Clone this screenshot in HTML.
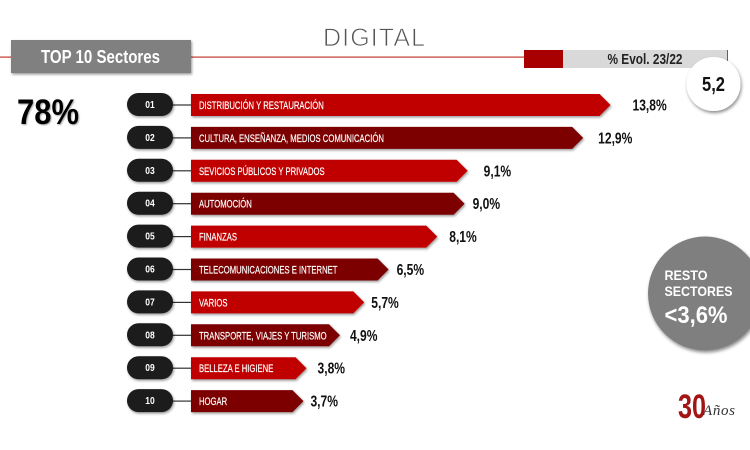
<!DOCTYPE html>
<html lang="es">
<head>
<meta charset="utf-8">
<title>Digital - Top 10 Sectores</title>
<style>
html,body{margin:0;padding:0;background:#fff;width:750px;height:450px;overflow:hidden}
svg{display:block}
text{font-family:"Liberation Sans",sans-serif}
</style>
</head>
<body>
<svg id="chart" xmlns="http://www.w3.org/2000/svg" width="750" height="450" viewBox="0 0 750 450">
  <defs>
    <filter id="sh" x="-10%" y="-30%" width="120%" height="170%">
      <feDropShadow dx="1" dy="1.5" stdDeviation="1.2" flood-color="#000" flood-opacity="0.4"/>
    </filter>
    <filter id="shc" x="-30%" y="-30%" width="160%" height="160%">
      <feDropShadow dx="1" dy="2" stdDeviation="1.6" flood-color="#000" flood-opacity="0.45"/>
    </filter>
    <filter id="sht" x="-10%" y="-10%" width="125%" height="130%">
      <feDropShadow dx="1" dy="1" stdDeviation="0.8" flood-color="#000" flood-opacity="0.35"/>
    </filter>
  </defs>

  <rect x="0" y="56.5" width="524" height="1.2" fill="#c0392f"/>
  <rect x="11" y="40" width="180" height="33" fill="#808080" filter="url(#sh)"/>
  <text x="41" y="63" fill="#fff" font-size="18" font-weight="700" textLength="119" lengthAdjust="spacingAndGlyphs">TOP 10 Sectores</text>
  <text x="323" y="46" fill="#555" stroke="#fff" stroke-width="0.8" font-size="25" textLength="102" lengthAdjust="spacing">DIGITAL</text>

  <rect x="524" y="50" width="39" height="18" fill="#a80000"/>
  <rect x="563" y="50" width="164" height="18" fill="#d9d9d9"/>
  <rect x="727" y="50" width="1" height="11" fill="#c0392f"/>
  <text x="607.5" y="64" fill="#222" font-size="14.5" font-weight="700" textLength="75" lengthAdjust="spacingAndGlyphs">% Evol. 23/22</text>
  <circle cx="713.5" cy="84" r="27" fill="#fff" filter="url(#shc)"/>
  <text x="702" y="91" fill="#111" font-size="20" font-weight="700" textLength="23" lengthAdjust="spacingAndGlyphs">5,2</text>

  <text x="17" y="124" fill="#000" font-size="35" font-weight="700" textLength="62" lengthAdjust="spacingAndGlyphs" filter="url(#sht)">78%</text>

  <g id="rows"></g>

  <circle cx="705" cy="293.5" r="57" fill="#7f7f7f" filter="url(#shc)"/>
  <text x="664.5" y="280" fill="#fff" font-size="13.5" font-weight="700" textLength="43" lengthAdjust="spacingAndGlyphs">RESTO</text>
  <text x="664.5" y="296" fill="#fff" font-size="13.5" font-weight="700" textLength="68" lengthAdjust="spacingAndGlyphs">SECTORES</text>
  <text x="664.5" y="323" fill="#fff" font-size="24" font-weight="700" textLength="63" lengthAdjust="spacingAndGlyphs">&lt;3,6%</text>

  <g>
    <text x="678" y="418" fill="#a31515" font-size="34" font-weight="700" textLength="28" lengthAdjust="spacingAndGlyphs">30</text>
    <text x="703" y="415" fill="#333" font-size="15" font-style="italic" style="font-family:'Liberation Serif',serif" textLength="32" lengthAdjust="spacing">Años</text>
  </g>
</svg>

<script>
const ranks = ['01','02','03','04','05','06','07','08','09','10'];
const sectors = [
  'DISTRIBUCIÓN Y RESTAURACIÓN',
  'CULTURA, ENSEÑANZA, MEDIOS COMUNICACIÓN',
  'SEVICIOS PÚBLICOS Y PRIVADOS',
  'AUTOMOCIÓN',
  'FINANZAS',
  'TELECOMUNICACIONES E INTERNET',
  'VARIOS',
  'TRANSPORTE, VIAJES Y TURISMO',
  'BELLEZA E HIGIENE',
  'HOGAR'
];
const shares = [13.8, 12.9, 9.1, 9.0, 8.1, 6.5, 5.7, 4.9, 3.8, 3.7];

const NS = 'http://www.w3.org/2000/svg';
const rowsGroup = document.getElementById('rows');
const BAR_X0 = 191;
const PX_PER_POINT = 30.4;
const ROW_Y0 = 105;
const ROW_STEP = 32.9;
const BAR_H = 22;
const TIP = 11;
const NAME_X = 199;
const NAME_SQUEEZE = 0.70;
const VALUE_SQUEEZE = 0.78;
const VALUE_GAP = [22, 15, 16, 8, 12, 8, 7, 10, 11, 7];

function xScale(v) { return BAR_X0 + v * PX_PER_POINT; }
function yScale(i) { return ROW_Y0 + i * ROW_STEP; }
function formatShare(v) { return v.toFixed(1).replace('.', ',') + '%'; }
function squeeze(x, k) { return 'translate(' + x + ' 0) scale(' + k + ' 1) translate(' + (-x) + ' 0)'; }

function make(tag, attrs, parent, text) {
  const el = document.createElementNS(NS, tag);
  for (const k in attrs) el.setAttribute(k, attrs[k]);
  if (text !== undefined) el.textContent = text;
  parent.appendChild(el);
  return el;
}

shares.forEach(function (v, i) {
  const cy = yScale(i);
  const tipX = xScale(v);
  const top = cy - BAR_H / 2;
  const bottom = cy + BAR_H / 2;
  const fill = i % 2 === 0 ? '#c00000' : '#7b0000';

  const connector = make('rect', { x: 170, y: cy - 0.6, width: 22, height: 1.2, fill: '#333' }, rowsGroup);
  
  

  const pill = make('rect', { x: 127, y: cy - 12, width: 46, height: 23, rx: 11.5, ry: 11.5, fill: '#1a1a1a', filter: 'url(#sh)' }, rowsGroup);
  
  

  const rank = make('text', { x: 150, y: cy + 3, 'text-anchor': 'middle', fill: '#fff', 'font-size': 10, 'font-weight': 700, transform: squeeze(150, 0.85) }, rowsGroup, ranks[i]);
  
  

  const bar = make('polygon', {
    points: BAR_X0 + ',' + top + ' ' + (tipX - TIP) + ',' + top + ' ' + tipX + ',' + cy + ' ' + (tipX - TIP) + ',' + bottom + ' ' + BAR_X0 + ',' + bottom,
    fill: fill,
    filter: 'url(#sh)'
  }, rowsGroup);
  
  

  const name = make('text', { x: NAME_X, y: cy + 4, fill: '#fff', stroke: '#fff', 'stroke-width': 0.2, 'font-size': 11, transform: squeeze(NAME_X, NAME_SQUEEZE) }, rowsGroup, sectors[i]);
  
  

  const valueX = tipX + VALUE_GAP[i];
  const value = make('text', { x: valueX, y: cy + 5.5, fill: '#111', 'font-size': 15.5, 'font-weight': 700, transform: squeeze(valueX, VALUE_SQUEEZE) }, rowsGroup, formatShare(v));
  
  
});
</script>
</body>
</html>
